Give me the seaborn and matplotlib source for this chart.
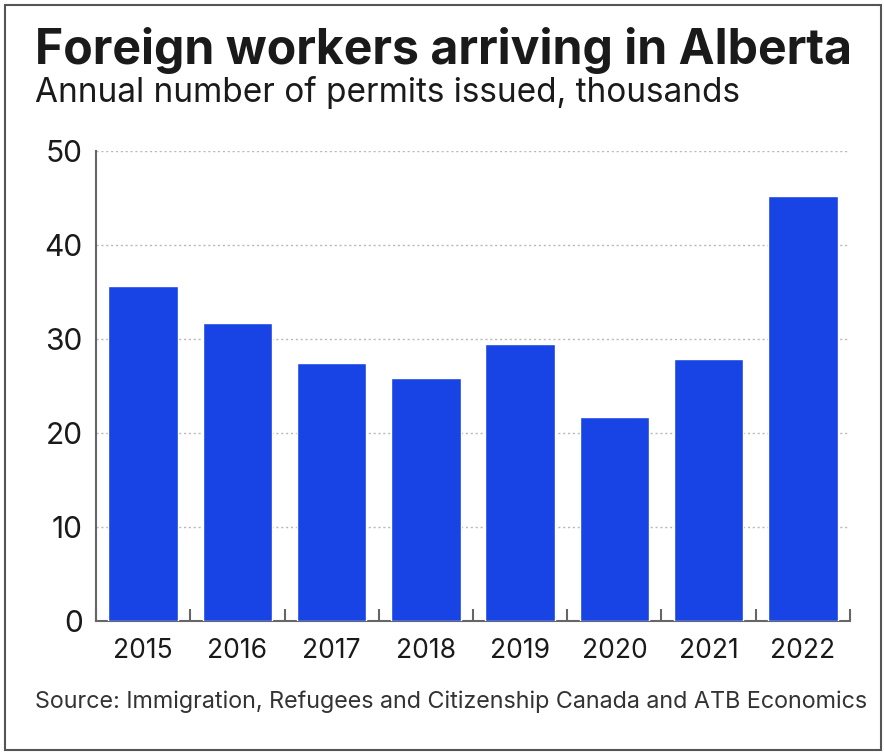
import matplotlib
matplotlib.use("Agg")
import matplotlib.pyplot as plt
import seaborn as sns
import pandas as pd
from matplotlib.patches import Rectangle

years = ["2015", "2016", "2017", "2018", "2019", "2020", "2021", "2022"]
permits = [35.6, 31.7, 27.5, 25.8, 29.5, 21.7, 27.9, 45.2]
y_ticks = [0, 10, 20, 30, 40, 50]

title = "Foreign workers arriving in Alberta"
subtitle = "Annual number of permits issued, thousands"
source = "Source: Immigration, Refugees and Citizenship Canada and ATB Economics"

sns.set_theme(style="white")
plt.rcParams["font.family"] = ["Inter", "DejaVu Sans"]

df = pd.DataFrame({"year": years, "permits": permits})

fig = plt.figure(figsize=(8.84, 7.53), dpi=100)
ax = fig.add_axes([96 / 884, 1 - 621 / 753, (850 - 96) / 884, (621 - 151) / 753])

sns.barplot(data=df, x="year", y="permits", color="#1844e6", saturation=1,
            width=0.735, ax=ax, zorder=3)

ax.set_ylim(0, 50)
ax.set_xlim(-0.5, len(years) - 0.5)
ax.set_yticks(y_ticks)
ax.set_yticklabels([str(t) for t in y_ticks], fontsize=21.5, color="#1a1a1a")
ax.set_xlabel("")
ax.set_ylabel("")
ax.tick_params(axis="x", labelsize=19, colors="#1a1a1a", length=0, pad=12)
ax.tick_params(axis="y", length=0, pad=9.5)
ax.set_xticks([i + 0.5 for i in range(-1, len(years))], minor=True)
ax.tick_params(axis="x", which="minor", direction="in", length=9, width=1.5,
               color="#666666", bottom=True)

for t in y_ticks[1:]:
    ax.axhline(t, color="#b8b8b8", linewidth=1.0, linestyle=(0, (1.5, 2)), zorder=1)

for side in ["top", "right"]:
    ax.spines[side].set_visible(False)
for side in ["left", "bottom"]:
    ax.spines[side].set_color("#666666")
    ax.spines[side].set_linewidth(1.5)

fig.text(35 / 884, 1 - 63.5 / 753, title, fontsize=34.7, fontweight="bold",
         color="#1a1a1a", ha="left", va="baseline")
fig.text(35 / 884, 1 - 102 / 753, subtitle, fontsize=24, color="#1a1a1a",
         ha="left", va="baseline")
fig.text(35 / 884, 1 - 708 / 753, source, fontsize=16.8, color="#333333",
         ha="left", va="baseline")

fig.patches.append(Rectangle((5 / 884, 3 / 753), 876 / 884, 745 / 753,
                             transform=fig.transFigure, fill=False,
                             edgecolor="#555555", linewidth=1.5))

fig.savefig("out.png", dpi=100)
